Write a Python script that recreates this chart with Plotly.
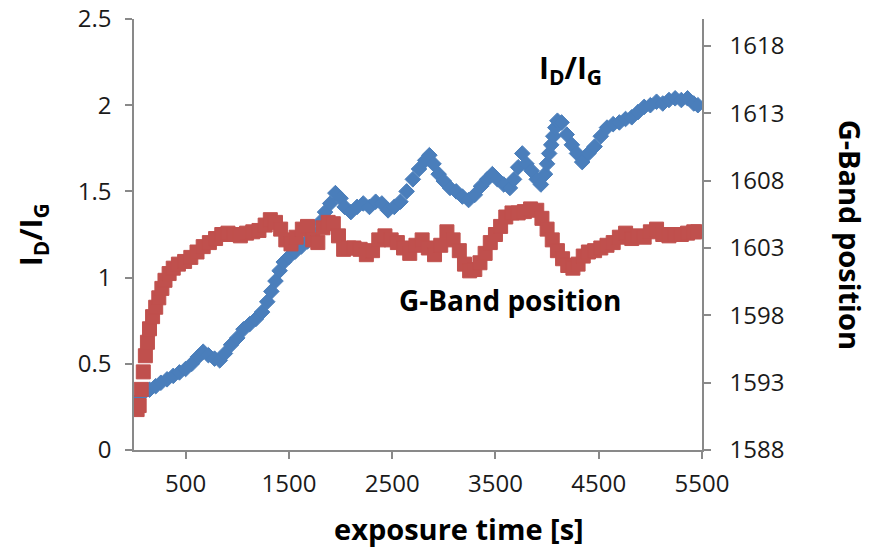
import plotly.graph_objects as go

# I_D/I_G ratio (left axis)
ratio_time = [40, 90, 150, 210, 260, 320, 380, 440, 500, 560, 620, 670, 720, 780, 830, 880, 940, 1000,
              1060, 1120, 1180, 1240, 1290, 1330, 1370, 1410, 1450, 1500, 1560, 1620, 1680, 1740, 1800,
              1850, 1900, 1950, 2000, 2040, 2100, 2160, 2220, 2280, 2340, 2400, 2460, 2520, 2580, 2640,
              2700, 2760, 2820, 2860, 2900, 2950, 3000, 3060, 3120, 3180, 3240, 3300, 3360, 3420, 3470,
              3520, 3580, 3640, 3680, 3720, 3760, 3800, 3850, 3900, 3940, 3980, 4000, 4020, 4040, 4060,
              4080, 4100, 4140, 4190, 4240, 4290, 4340, 4400, 4460, 4520, 4580, 4640, 4700, 4760, 4820,
              4880, 4940, 5000, 5060, 5120, 5180, 5240, 5300, 5360, 5420, 5460]
ratio_vals = [0.29, 0.33, 0.35, 0.37, 0.39, 0.41, 0.43, 0.45, 0.47, 0.50, 0.54, 0.57, 0.55, 0.53, 0.52,
              0.56, 0.61, 0.65, 0.70, 0.73, 0.76, 0.80, 0.86, 0.92, 0.98, 1.04, 1.09, 1.12, 1.15, 1.18,
              1.21, 1.26, 1.32, 1.38, 1.43, 1.49, 1.46, 1.41, 1.38, 1.41, 1.43, 1.41, 1.44, 1.43, 1.39,
              1.41, 1.44, 1.50, 1.57, 1.63, 1.68, 1.71, 1.66, 1.60, 1.56, 1.52, 1.50, 1.47, 1.45, 1.48,
              1.53, 1.57, 1.60, 1.57, 1.54, 1.52, 1.57, 1.64, 1.72, 1.66, 1.62, 1.57, 1.54, 1.60, 1.66,
              1.72, 1.77, 1.82, 1.87, 1.91, 1.90, 1.83, 1.77, 1.72, 1.67, 1.72, 1.76, 1.82, 1.87, 1.89,
              1.90, 1.92, 1.93, 1.96, 1.99, 2.00, 2.02, 2.01, 2.03, 2.04, 2.03, 2.04, 2.01, 2.00]

# G-band position (right axis)
gband_time = [30, 50, 70, 90, 110, 130, 150, 180, 210, 240, 270, 300, 340, 380, 430, 490, 550, 610, 670,
              730, 790, 850, 910, 970, 1030, 1090, 1150, 1210, 1270, 1320, 1370, 1420, 1470, 1520, 1570,
              1630, 1680, 1730, 1780, 1830, 1880, 1930, 1980, 2030, 2080, 2130, 2190, 2250, 2310, 2370,
              2430, 2490, 2550, 2610, 2670, 2730, 2790, 2850, 2910, 2970, 3030, 3090, 3150, 3200, 3250,
              3300, 3350, 3400, 3450, 3500, 3550, 3600, 3660, 3720, 3780, 3840, 3900, 3950, 4000, 4050,
              4100, 4150, 4200, 4250, 4300, 4350, 4400, 4460, 4520, 4580, 4640, 4700, 4760, 4820, 4880,
              4940, 5000, 5060, 5120, 5180, 5240, 5300, 5360, 5420, 5460]
gband_vals = [1591.0, 1591.3, 1592.5, 1593.8, 1595.0, 1596.0, 1597.0, 1597.9, 1598.6, 1599.3, 1600.0,
              1600.6, 1601.1, 1601.5, 1601.8, 1602.0, 1602.3, 1602.7, 1603.1, 1603.4, 1603.7, 1604.0,
              1604.1, 1604.0, 1603.9, 1604.1, 1604.2, 1604.3, 1604.7, 1605.1, 1604.9, 1604.4, 1603.6,
              1603.3, 1603.8, 1604.4, 1604.6, 1603.6, 1603.4, 1604.5, 1604.9, 1604.8, 1603.9, 1602.9,
              1603.0, 1603.0, 1602.9, 1602.5, 1602.8, 1603.6, 1603.9, 1603.6, 1603.4, 1603.0, 1602.6,
              1603.2, 1603.6, 1603.0, 1602.5, 1603.2, 1604.2, 1603.6, 1602.8, 1601.8, 1601.3, 1601.4,
              1601.9, 1602.6, 1603.4, 1604.0, 1604.6, 1605.3, 1605.6, 1605.6, 1605.7, 1605.9, 1605.8,
              1605.2, 1604.4, 1603.6, 1602.8, 1602.2, 1601.7, 1601.5, 1601.8, 1602.4, 1602.7, 1602.8,
              1603.0, 1603.2, 1603.4, 1603.8, 1604.1, 1603.7, 1603.9, 1603.8, 1604.2, 1604.4, 1604.0,
              1603.9, 1604.0, 1604.0, 1604.1, 1604.2, 1604.2]

x_ticks = [500, 1500, 2500, 3500, 4500, 5500]
left_ticks = [0, 0.5, 1, 1.5, 2, 2.5]
left_labels = ["0", "0.5", "1", "1.5", "2", "2.5"]
right_ticks = [1588, 1593, 1598, 1603, 1608, 1613, 1618]

BLUE = "#4A7EBB"
RED = "#C0504D"
AXIS = "#898989"
FONT = "Open Sans"

fig = go.Figure()
fig.add_trace(go.Scatter(x=ratio_time, y=ratio_vals, mode="markers", name="I_D/I_G",
                         marker=dict(symbol="diamond", size=12, color=BLUE,
                                     line=dict(color=BLUE, width=1)),
                         yaxis="y"))
fig.add_trace(go.Scatter(x=gband_time, y=gband_vals, mode="markers", name="G-Band position",
                         marker=dict(symbol="square", size=14, color=RED,
                                     line=dict(color=RED, width=1)),
                         yaxis="y2"))

tickfont = dict(family=FONT, size=24, color="#1a1a1a")
fig.update_layout(
    width=862, height=544,
    margin=dict(l=126, r=168, t=11, b=102),
    paper_bgcolor="white", plot_bgcolor="white",
    showlegend=False,
    xaxis=dict(range=[0, 5500], tickvals=x_ticks, showgrid=False, zeroline=False, automargin=False,
               showline=True, linecolor=AXIS, linewidth=1.5, ticks="outside", ticklen=7,
               tickcolor=AXIS, tickwidth=1.5, tickfont=tickfont, ticklabelstandoff=4,
               ticklabeloverflow="allow"),
    yaxis=dict(range=[0, 2.5], tickvals=left_ticks, ticktext=left_labels, showgrid=False,
               automargin=False, ticklabeloverflow="allow",
               zeroline=False, showline=True, linecolor=AXIS, linewidth=1.5, ticks="outside",
               ticklen=7, tickcolor=AXIS, tickwidth=1.5, tickfont=tickfont, ticklabelstandoff=9),
    yaxis2=dict(range=[1588, 1620], tickvals=right_ticks, overlaying="y", side="right",
                automargin=False, ticklabeloverflow="allow",
                showgrid=False, zeroline=False, showline=True, linecolor=AXIS, linewidth=1.5,
                ticks="outside", ticklen=7, tickcolor=AXIS, tickwidth=1.5, tickfont=tickfont,
                ticklabelstandoff=14),
    annotations=[
        dict(text="<b>exposure time [s]</b>", xref="paper", yref="paper", x=0.572, y=-0.182,
             xanchor="center", yanchor="middle", showarrow=False,
             font=dict(family=FONT, size=29, color="black")),
        dict(text="<b>I<sub>D</sub>/I<sub>G</sub></b>", xref="paper", yref="paper", x=-0.18, y=0.5,
             xanchor="center", yanchor="middle", textangle=-90, showarrow=False,
             font=dict(family=FONT, size=30, color="black")),
        dict(text="<b>G-Band position</b>", xref="paper", yref="paper", x=1.262, y=0.5,
             xanchor="center", yanchor="middle", textangle=90, showarrow=False,
             font=dict(family=FONT, size=29, color="black")),
        dict(text="<b>I<sub>D</sub>/I<sub>G</sub></b>", xref="x", yref="y", x=4231, y=2.21,
             xanchor="center", yanchor="middle", showarrow=False,
             font=dict(family=FONT, size=30, color="black")),
        dict(text="<b>G-Band position</b>", xref="x", yref="y", x=3641, y=0.87,
             xanchor="center", yanchor="middle", showarrow=False,
             font=dict(family=FONT, size=28, color="black")),
    ],
)

fig.write_html("out.html")
